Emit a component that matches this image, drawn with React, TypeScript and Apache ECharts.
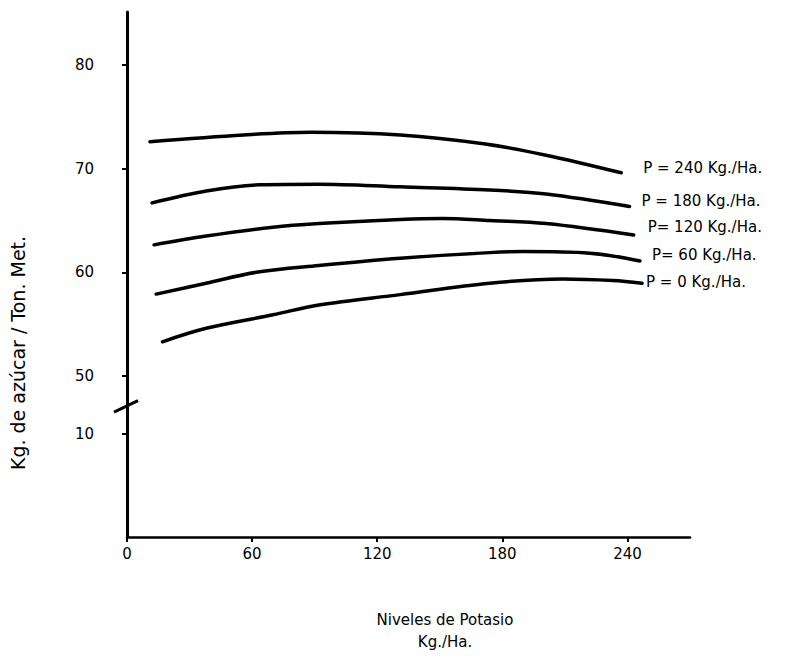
import React, { useEffect, useRef } from "react";
import * as echarts from "echarts";

// Display position of the real value 10 below the axis break
const BREAK_TEN = 44.41;
const BREAK_MARK = 47.1;

const xTicks = [0, 60, 120, 180, 240];
const yTickValues = [BREAK_TEN, 50, 60, 70, 80];

const seriesNames = [
  "P = 240 Kg./Ha.",
  "P = 180 Kg./Ha.",
  "P= 120 Kg./Ha.",
  "P= 60 Kg./Ha.",
  "P = 0 Kg./Ha.",
];

const p240X = [11, 56, 88, 131, 171, 201, 237];
const p240Y = [72.6, 73.25, 73.5, 73.25, 72.4, 71.3, 69.6];

const p180X = [12, 38, 64, 92, 131, 174, 201, 241];
const p180Y = [66.7, 67.85, 68.45, 68.5, 68.25, 67.95, 67.55, 66.35];

const p120X = [13, 38, 70, 92, 131, 151, 174, 201, 243];
const p120Y = [62.65, 63.5, 64.35, 64.7, 65.1, 65.2, 65.0, 64.7, 63.6];

const p60X = [14, 38, 62, 92, 131, 174, 190, 222, 246];
const p60Y = [57.9, 58.95, 60.0, 60.65, 61.35, 61.9, 62.0, 61.85, 61.1];

const p0X = [17, 38, 70, 92, 131, 174, 209, 233, 247];
const p0Y = [53.3, 54.6, 55.9, 56.85, 57.85, 58.95, 59.35, 59.2, 58.95];

const labelOffsets: [number, number][] = [
  [22, -5],
  [12, -5],
  [14, -8],
  [12, -6],
  [4, -1],
];

const FONT = "DejaVu Sans";

function zip(xs: number[], ys: number[]) {
  return xs.map((x, i) => [x, ys[i]]);
}

export default function App() {
  const ref = useRef<HTMLDivElement>(null);
  useEffect(() => {
    document.body.style.margin = "0";
    if (!ref.current) return;
    const chart = echarts.init(ref.current, null, { renderer: "svg" });
    const datasets = [
      zip(p240X, p240Y),
      zip(p180X, p180Y),
      zip(p120X, p120Y),
      zip(p60X, p60Y),
      zip(p0X, p0Y),
    ];
    chart.setOption({
      animation: false,
      backgroundColor: "#ffffff",
      grid: { left: 127, top: 12, width: 563, height: 525, containLabel: false },
      xAxis: {
        type: "value",
        min: 0,
        max: 270,
        interval: 60,
        axisLine: { show: true, lineStyle: { color: "#000", width: 2.5 } },
        axisTick: { show: true, length: 5, lineStyle: { color: "#000", width: 2 }, customValues: xTicks },
        axisLabel: {
          customValues: xTicks,
          color: "#000",
          fontFamily: FONT,
          fontSize: 15,
          margin: 9,
        },
        splitLine: { show: false },
      },
      yAxis: {
        type: "value",
        min: 34.47,
        max: 85.11,
        axisLine: { show: true, lineStyle: { color: "#000", width: 3 } },
        axisTick: { show: true, length: 5, lineStyle: { color: "#000", width: 2 }, customValues: yTickValues },
        axisLabel: {
          customValues: yTickValues,
          color: "#000",
          fontFamily: FONT,
          fontSize: 15,
          margin: 33,
          formatter: (v: number) => (Math.abs(v - BREAK_TEN) < 0.01 ? "10" : String(Math.round(v))),
        },
        splitLine: { show: false },
      },
      series: datasets.map((d, i) => ({
        type: "line",
        name: seriesNames[i],
        data: d,
        smooth: 0.35,
        symbol: "none",
        lineStyle: { color: "#000", width: 3.5, cap: "round" },
        endLabel: {
          show: true,
          formatter: seriesNames[i],
          color: "#000",
          fontFamily: FONT,
          fontSize: 15,
          distance: 0,
          offset: labelOffsets[i],
          align: "left",
          verticalAlign: "middle",
        },
      })),
    });
    const mark = chart.convertToPixel({ gridIndex: 0 }, [0, BREAK_MARK]) as number[];
    chart.setOption({
      graphic: [
        {
          type: "line",
          shape: { x1: mark[0] - 13, y1: mark[1] + 6, x2: mark[0] + 11, y2: mark[1] - 5.5 },
          style: { stroke: "#000", lineWidth: 3 },
        },
        {
          type: "text",
          x: 18,
          y: 353,
          rotation: Math.PI / 2,
          style: {
            text: "Kg. de azúcar / Ton. Met.",
            fill: "#000",
            fontFamily: FONT,
            fontSize: 19,
            align: "center",
            verticalAlign: "middle",
          },
        },
        {
          type: "text",
          x: 445,
          y: 620,
          style: {
            text: "Niveles de Potasio",
            fill: "#000",
            fontFamily: FONT,
            fontSize: 15,
            align: "center",
            verticalAlign: "middle",
          },
        },
        {
          type: "text",
          x: 445,
          y: 642,
          style: {
            text: "Kg./Ha.",
            fill: "#000",
            fontFamily: FONT,
            fontSize: 15,
            align: "center",
            verticalAlign: "middle",
          },
        },
      ],
    });
    return () => chart.dispose();
  }, []);
  return <div ref={ref} style={{ width: 794, height: 660 }} />;
}
